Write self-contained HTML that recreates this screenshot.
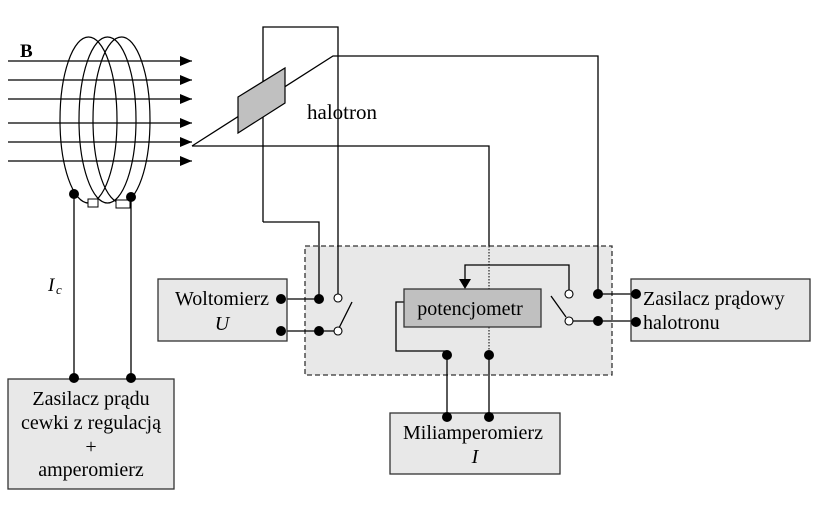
<!DOCTYPE html>
<html><head><meta charset="utf-8"><style>
html,body{margin:0;padding:0;background:#fff;}
svg{display:block;}
text{font-family:"Liberation Serif",serif;fill:#000;}
</style></head><body>
<svg width="824" height="510" viewBox="0 0 824 510" xmlns="http://www.w3.org/2000/svg">
<defs>
<marker id="ah" markerWidth="12" markerHeight="10" refX="12" refY="5" orient="auto" markerUnits="userSpaceOnUse">
<path d="M0,0 L12,5 L0,10 Z" fill="#000"/></marker>
</defs>
<rect x="305" y="246" width="307" height="129" fill="#e8e8e8" stroke="#333" stroke-width="1.3" stroke-dasharray="5,3"/>
<g stroke="#000" stroke-width="1.3">
<line x1="8" y1="61" x2="192" y2="61" marker-end="url(#ah)"/>
<line x1="8" y1="80" x2="192" y2="80" marker-end="url(#ah)"/>
<line x1="8" y1="99" x2="192" y2="99" marker-end="url(#ah)"/>
<line x1="8" y1="123" x2="192" y2="123" marker-end="url(#ah)"/>
<line x1="8" y1="142" x2="192" y2="142" marker-end="url(#ah)"/>
<line x1="8" y1="161" x2="192" y2="161" marker-end="url(#ah)"/>
</g>
<text x="20" y="57" font-size="19" font-weight="bold">B</text>
<g fill="none" stroke="#000" stroke-width="1.2">
<ellipse cx="88.5" cy="120" rx="28.5" ry="83"/>
<ellipse cx="107.5" cy="120" rx="28.5" ry="83"/>
<ellipse cx="121.5" cy="120" rx="28.5" ry="83"/>
</g>
<rect x="88" y="199" width="10" height="8" fill="#fff" stroke="#000"/>
<rect x="116" y="200" width="14" height="8" fill="#fff" stroke="#000"/>
<g stroke="#000" stroke-width="1.3" fill="none">
<line x1="74" y1="194" x2="74" y2="378"/>
<line x1="131" y1="197" x2="131" y2="378"/>
<polyline points="192,146 333,56 598,56 598,295"/>
<polyline points="192,146 489,146 489,246"/>
<polyline points="263,222 263,27 338,27 338,294"/>
<polyline points="263,222 319,222 319,299"/>
<line x1="281" y1="299" x2="319" y2="299"/>
<line x1="281" y1="331" x2="335" y2="331"/>
<line x1="339" y1="328" x2="352" y2="302"/>
<polyline points="465,280 465,265 569,265 569,290"/>
<polyline points="404,302 396,302 396,351 447,351"/>
<line x1="447" y1="355" x2="447" y2="417"/>
<line x1="489" y1="355" x2="489" y2="417"/>
<line x1="598" y1="294" x2="636" y2="294"/>
<line x1="573" y1="321" x2="636" y2="321"/>
<line x1="551" y1="296" x2="566" y2="317"/>
</g>
<line x1="489" y1="246" x2="489" y2="355" stroke="#000" stroke-width="1" stroke-dasharray="1.5,1.5"/>
<path d="M459,279 L471,279 L465,289 Z" fill="#000"/>
<polygon points="238,97 285,68 285,103 238,133" fill="#c0c0c0" stroke="#000" stroke-width="1.2"/>
<text x="307" y="119" font-size="21">halotron</text>
<text x="48" y="291" font-size="19" font-style="italic">I</text><text x="56" y="294" font-size="13" font-style="italic">c</text>
<rect x="158" y="279" width="129" height="62" fill="#e8e8e8" stroke="#333" stroke-width="1.3"/>
<text x="222" y="305" font-size="20" text-anchor="middle">Woltomierz</text>
<text x="222" y="330" font-size="20" text-anchor="middle" font-style="italic">U</text>
<rect x="8" y="379" width="166" height="110" fill="#e8e8e8" stroke="#333" stroke-width="1.3"/>
<text x="91" y="405" font-size="20" text-anchor="middle">Zasilacz prądu</text>
<text x="91" y="429" font-size="20" text-anchor="middle">cewki z regulacją</text>
<text x="91" y="453" font-size="20" text-anchor="middle">+</text>
<text x="91" y="476" font-size="20" text-anchor="middle">amperomierz</text>
<rect x="404" y="289" width="137" height="38" fill="#c0c0c0" stroke="#333" stroke-width="1.3"/>
<text x="470" y="315" font-size="20" text-anchor="middle">potencjometr</text>
<rect x="390" y="413" width="170" height="61" fill="#e8e8e8" stroke="#333" stroke-width="1.3"/>
<text x="473" y="439" font-size="20" text-anchor="middle">Miliamperomierz</text>
<text x="475" y="463" font-size="20" text-anchor="middle" font-style="italic">I</text>
<rect x="631" y="279" width="179" height="62" fill="#e8e8e8" stroke="#333" stroke-width="1.3"/>
<text x="643" y="305" font-size="20">Zasilacz prądowy</text>
<text x="643" y="329" font-size="20">halotronu</text>
<g fill="#000">
<circle cx="74" cy="194" r="5"/><circle cx="131" cy="197" r="5"/>
<circle cx="74" cy="378" r="5"/><circle cx="131" cy="378" r="5"/>
<circle cx="281" cy="299" r="5"/><circle cx="281" cy="331" r="5"/>
<circle cx="319" cy="299" r="5"/><circle cx="319" cy="331" r="5"/>
<circle cx="598" cy="294" r="5"/><circle cx="598" cy="321" r="5"/>
<circle cx="636" cy="294" r="5"/><circle cx="636" cy="322" r="5"/>
<circle cx="447" cy="355" r="5"/><circle cx="489" cy="355" r="5"/>
<circle cx="447" cy="417" r="5"/><circle cx="489" cy="417" r="5"/>
</g>
<g fill="#fff" stroke="#000" stroke-width="1.1">
<circle cx="338" cy="298" r="4"/><circle cx="338" cy="331" r="4"/>
<circle cx="569" cy="294" r="4"/><circle cx="569" cy="321" r="4"/>
</g>
</svg>
</body></html>
